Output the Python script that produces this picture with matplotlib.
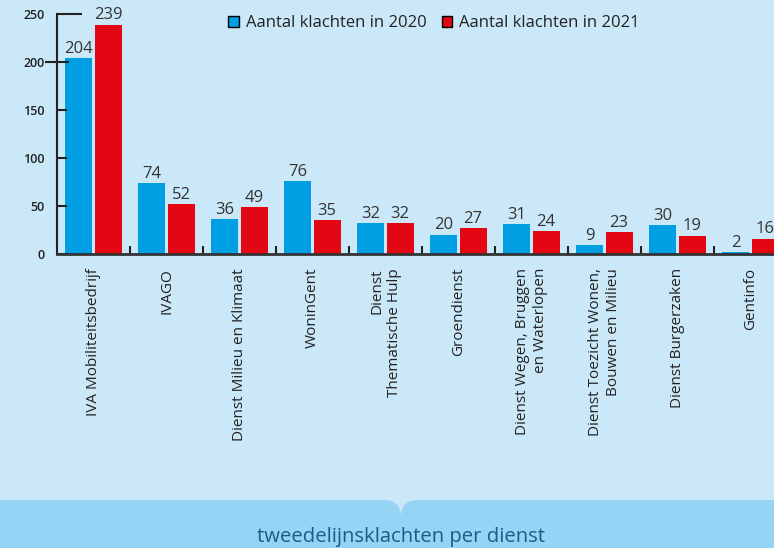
"""
Tweedelijnsklachten per dienst, 2020 vs 2021
"""
import matplotlib
matplotlib.use('Agg')
import matplotlib.pyplot as plt
from matplotlib.patches import FancyBboxPatch
import numpy as np

# ###
# data
# ###
CATEGORIES = ['IVA Mobiliteitsbedrijf', 'IVAGO', 'Dienst Milieu en Klimaat', 'WoninGent',
              'Dienst\nThematische Hulp', 'Groendienst', 'Dienst Wegen, Bruggen\nen Waterlopen',
              'Dienst Toezicht Wonen,\nBouwen en Milieu', 'Dienst Burgerzaken', 'Gentinfo']
KLACHTEN_2020 = [204, 74, 36, 76, 32, 20, 31, 9, 30, 2]
KLACHTEN_2021 = [239, 52, 49, 35, 32, 27, 24, 23, 19, 16]
SERIES_LABELS = ['Aantal klachten in 2020', 'Aantal klachten in 2021']
Y_TICKS = [0, 50, 100, 150, 200, 250]
FOOTER_TEXT = 'tweedelijnsklachten per dienst'

# figure variables
BG_COLOR     = '#cbe8f8'
BANNER_COLOR = '#95d4f4'
BLUE         = '#009fe3'
RED          = '#e30613'
AXIS_COLOR   = '#222222'
TEXT_COLOR   = '#333333'
FOOTER_COLOR = '#1d5b89'
BAR_WIDTH    = 0.37
FONT         = ['Open Sans', 'DejaVu Sans']

plt.rcParams['font.family'] = FONT

fig = plt.figure(figsize=(7.74, 5.48), dpi=100, facecolor=BG_COLOR)

# main axes, runs off the right edge like the original
ax = fig.add_axes([57 / 774, 294 / 548, 730 / 774, 240 / 548])
ax.set_facecolor(BG_COLOR)

x = np.arange(len(CATEGORIES))
b1 = ax.bar(x - 0.2, KLACHTEN_2020, width=BAR_WIDTH, color=BLUE, label=SERIES_LABELS[0])
b2 = ax.bar(x + 0.2, KLACHTEN_2021, width=BAR_WIDTH, color=RED, label=SERIES_LABELS[1])
ax.bar_label(b1, padding=1, fontsize=12, color=TEXT_COLOR)
ax.bar_label(b2, padding=1, fontsize=12, color=TEXT_COLOR)

ax.set_xlim(-0.5, len(CATEGORIES) - 0.5)
ax.set_ylim(0, 250)

for side in ['top', 'right']:
    ax.spines[side].set_visible(False)
ax.spines['left'].set_color(AXIS_COLOR)
ax.spines['left'].set_linewidth(1.5)
ax.spines['bottom'].set_color('#333333')
ax.spines['bottom'].set_linewidth(2)

# y axis
ax.set_yticks(Y_TICKS)
ax.tick_params(axis='y', direction='in', length=7, width=1.5, color=AXIS_COLOR,
               labelsize=9, labelcolor=AXIS_COLOR, pad=9)
for lbl in ax.get_yticklabels():
    lbl.set_fontweight('semibold')
yt = ax.yaxis.get_major_ticks()
yt[-1].tick1line.set_markersize(18)
yt[-2].tick1line.set_marker('_')
yt[-2].tick1line.set_markersize(17)

# x axis: labels at centres, small separators between groups
ax.set_xticks(x)
ax.set_xticklabels(CATEGORIES, rotation=90, va='top', ha='center', multialignment='right')
ax.set_xticks(x[:-1] + 0.5, minor=True)
ax.tick_params(axis='x', which='major', length=0, pad=10, labelsize=11, labelcolor=AXIS_COLOR)
ax.tick_params(axis='x', which='minor', direction='in', length=6, width=1.5, color=AXIS_COLOR)

# legend
leg = fig.legend(handles=[b1, b2], loc='center', bbox_to_anchor=(434 / 774, 1 - 23 / 548),
                 ncol=2, frameon=False, fontsize=12, handlelength=0.65, handleheight=0.65,
                 handletextpad=0.4, columnspacing=0.9, labelcolor=AXIS_COLOR)
for patch in leg.get_patches():
    patch.set_edgecolor('black')
    patch.set_linewidth(1)

# footer banner with notch
bx = fig.add_axes([0, 0, 1, 48 / 548])
bx.set_xlim(0, 774)
bx.set_ylim(0, 48)
bx.axis('off')
bx.add_patch(FancyBboxPatch((-40, -40), 441, 88, boxstyle='round,pad=0,rounding_size=17',
                            facecolor=BANNER_COLOR, edgecolor='none'))
bx.add_patch(FancyBboxPatch((401, -40), 420, 88, boxstyle='round,pad=0,rounding_size=17',
                            facecolor=BANNER_COLOR, edgecolor='none'))
bx.text(401, 11, FOOTER_TEXT, ha='center', va='center', fontsize=14.6, color=FOOTER_COLOR)

fig.savefig('out.png', dpi=100, facecolor=BG_COLOR)
